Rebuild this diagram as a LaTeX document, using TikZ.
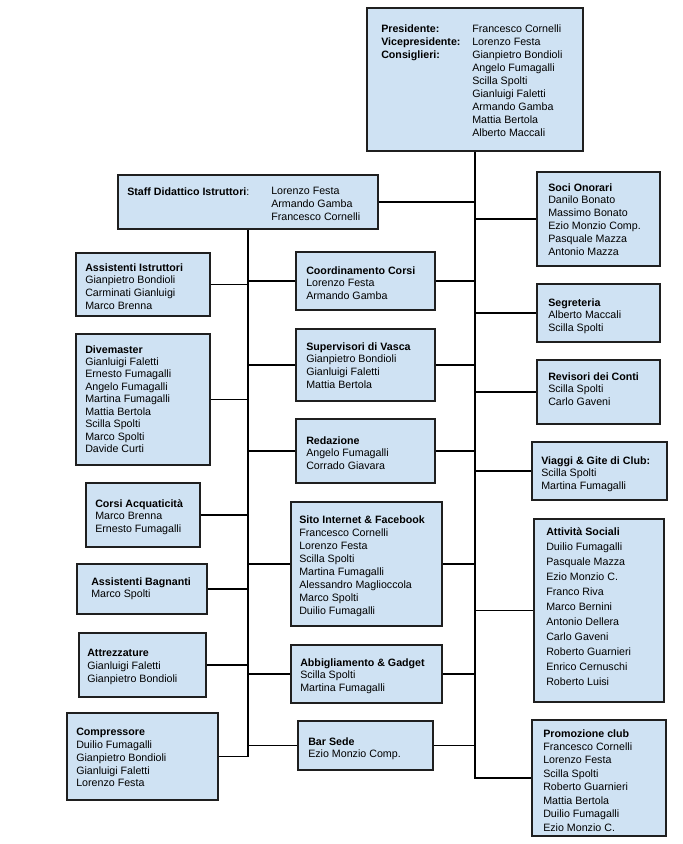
\documentclass[tikz,border=0pt]{standalone}
\usepackage{fontspec}
\setmainfont{Liberation Sans}
\usetikzlibrary{fit}
\definecolor{boxfill}{HTML}{CFE2F3}
\definecolor{boxline}{HTML}{1F1F1F}
\tikzset{
  box/.style={draw=boxline, fill=boxfill, line width=0.8pt, inner sep=0pt, rectangle},
  txt/.style={inner sep=0pt, align=left, font=\fontsize{8}{9.6}\selectfont, text=black},
  conn/.style={draw=black, line width=0.8pt}
}
\newcommand\bx[9][]{%
  \node[box, fit={(#3,#4)(#5,#6)}] (#2) {};
  \node[txt, anchor=north west, #1] at (#7,#8) {#9};}
\begin{document}
\begin{tikzpicture}[x=0.75pt,y=-0.75pt]
\useasboundingbox (0,0) rectangle (683,844);
% top
\node[box, fit={(367,8)(583,151)}] (top) {};
\node[txt, anchor=north west, font=\fontsize{8}{9.75}\selectfont] (toplab) at (381,24)
  {\textbf{Presidente:}\\\textbf{Vicepresidente:}\\\textbf{Consiglieri:}};
\node[txt, anchor=north west, font=\fontsize{8}{9.75}\selectfont] (topnames) at (472,24)
  {Francesco Cornelli\\Lorenzo Festa\\Gianpietro Bondioli\\Angelo Fumagalli\\Scilla Spolti\\Gianluigi Faletti\\Armando Gamba\\Mattia Bertola\\Alberto Maccali};
% staff
\node[box, fit={(118,175)(378,229)}] (staff) {};
\node[txt, anchor=north west] (stafflab) at (127,187) {\textbf{Staff Didattico Istruttori}:};
\node[txt, anchor=north west] (staffnames) at (271,187) {Lorenzo Festa\\Armando Gamba\\Francesco Cornelli};
% left column
\bx{ai}{76}{253}{210}{316}{85}{263}{\textbf{Assistenti Istruttori}\\Gianpietro Bondioli\\Carminati Gianluigi\\Marco Brenna}
\bx[font=\fontsize{8}{9.35}\selectfont]{dive}{76}{334}{210}{465}{85}{345}{\textbf{Divemaster}\\Gianluigi Faletti\\Ernesto Fumagalli\\Angelo Fumagalli\\Martina Fumagalli\\Mattia Bertola\\Scilla Spolti\\Marco Spolti\\Davide Curti}
\bx{corsi}{86}{483}{200}{547}{95}{499}{\textbf{Corsi Acquaticità}\\Marco Brenna\\Ernesto Fumagalli}
\bx{bagn}{77}{564}{207}{614}{91}{577}{\textbf{Assistenti Bagnanti}\\Marco Spolti}
\bx{attr}{79}{633}{206}{697}{87}{649}{\textbf{Attrezzature}\\Gianluigi Faletti\\Gianpietro Bondioli}
\bx{comp}{67}{713}{218}{800}{76}{728}{\textbf{Compressore}\\Duilio Fumagalli\\Gianpietro Bondioli\\Gianluigi Faletti\\Lorenzo Festa}
% middle column
\bx{coord}{296}{252}{435}{310}{306}{266}{\textbf{Coordinamento Corsi}\\Lorenzo Festa\\Armando Gamba}
\bx{sup}{296}{329}{435}{401}{306}{342}{\textbf{Supervisori di Vasca}\\Gianpietro Bondioli\\Gianluigi Faletti\\Mattia Bertola}
\bx{red}{296}{419}{435}{483}{306}{436}{\textbf{Redazione}\\Angelo Fumagalli\\Corrado Giavara}
\bx[font=\fontsize{8}{9.75}\selectfont]{sito}{291}{502}{442}{626}{299}{515}{\textbf{Sito Internet \& Facebook}\\Francesco Cornelli\\Lorenzo Festa\\Scilla Spolti\\Martina Fumagalli\\Alessandro Maglioccola\\Marco Spolti\\Duilio Fumagalli}
\bx{abb}{291}{645}{442}{703}{300}{658}{\textbf{Abbigliamento \& Gadget}\\Scilla Spolti\\Martina Fumagalli}
\bx{bar}{298}{721}{433}{770}{308}{737}{\textbf{Bar Sede}\\Ezio Monzio Comp.}
% right column
\bx{soci}{537}{172}{660}{266}{548}{183}{\textbf{Soci Onorari}\\Danilo Bonato\\Massimo Bonato\\Ezio Monzio Comp.\\Pasquale Mazza\\Antonio Mazza}
\bx{segr}{537}{284}{660}{342}{548}{298}{\textbf{Segreteria}\\Alberto Maccali\\Scilla Spolti}
\bx{rev}{537}{360}{660}{424}{548}{372}{\textbf{Revisori dei Conti}\\Scilla Spolti\\Carlo Gaveni}
\bx{viag}{532}{442}{667}{500}{541}{456}{\textbf{Viaggi \& Gite di Club:}\\Scilla Spolti\\Martina Fumagalli}
\bx[font=\fontsize{8}{11.3}\selectfont]{att}{534}{519}{664}{702}{546}{527}{\textbf{Attività Sociali}\\Duilio Fumagalli\\Pasquale Mazza\\Ezio Monzio C.\\Franco Riva\\Marco Bernini\\Antonio Dellera\\Carlo Gaveni\\Roberto Guarnieri\\Enrico Cernuschi\\Roberto Luisi}
\bx[font=\fontsize{8}{10.1}\selectfont]{promo}{532}{720}{666}{836}{543}{729}{\textbf{Promozione club}\\Francesco Cornelli\\Lorenzo Festa\\Scilla Spolti\\Roberto Guarnieri\\Mattia Bertola\\Duilio Fumagalli\\Ezio Monzio C.}
% connectors: main trunk
\draw[conn] (top.south) -- (top.south |- promo.west) -- (promo.west);
\foreach \n in {soci,segr,rev,viag,att} {\draw[conn] (\n.west) -- (\n.west -| top.south);}
\draw[conn] (staff.east) -- (staff.east -| top.south);
% left trunk
\draw[conn] (staff.south) -- (staff.south |- comp.east) -- (comp.east);
\foreach \n in {ai,dive,corsi,bagn,attr} {\draw[conn] (\n.east) -- (\n.east -| staff.south);}
% middle boxes
\foreach \n in {coord,sup,red,sito,abb,bar} {
  \draw[conn] (\n.east) -- (\n.east -| top.south);
  \draw[conn] (\n.west) -- (\n.west -| staff.south);
}
\end{tikzpicture}
\end{document}
